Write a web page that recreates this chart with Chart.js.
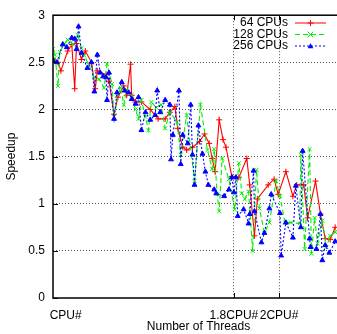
<!DOCTYPE html>
<html lang="en">
<head>
  <meta charset="UTF-8">
  <title>Speedup</title>
  <script src="https://cdn.jsdelivr.net/npm/chart.js"></script>
  <style>
    html, body { margin: 0; padding: 0; background: #fff; overflow: hidden; }
    #wrap { width: 337px; height: 334px; overflow: hidden; }
    canvas { display: block; }
  </style>
</head>
<body>
  <div id="wrap">
    <canvas id="speedupChart" width="349" height="334"></canvas>
  </div>

  <script>
    // number of threads, as a multiple of the CPU count
    const threads64 = [1.000,1.022,1.035,1.065,1.083,1.096,1.104,1.126,1.143,1.170,1.187,1.196,1.235,1.248,1.270,1.287,1.313,1.326,1.343,1.348,1.365,1.391,1.430,1.465,1.496,1.517,1.539,1.552,1.574,1.591,1.617,1.648,1.670,1.691,1.704,1.717,1.735,1.752,1.765,1.791,1.822,1.857,1.870,1.891,1.904,1.952,1.978,1.996,2.030,2.061,2.078,2.109,2.126,2.161,2.183,2.204,2.226,2.248];
    const speedup64 = [2.54,2.50,2.41,2.62,2.69,2.22,2.70,2.53,2.62,2.50,2.22,2.41,2.37,2.30,1.95,2.13,2.25,2.15,2.48,2.15,2.08,2.08,2.00,1.90,1.90,1.97,2.03,1.80,1.60,1.57,1.60,1.66,1.74,1.64,1.48,1.34,1.89,1.68,1.60,1.29,1.28,1.48,1.20,0.66,1.05,1.20,1.26,1.10,1.34,1.08,1.20,1.20,0.85,1.24,0.89,0.63,0.62,0.75];

    const threads128 = [1.000,1.009,1.022,1.030,1.052,1.065,1.087,1.109,1.126,1.139,1.157,1.183,1.204,1.226,1.239,1.261,1.270,1.287,1.300,1.313,1.326,1.348,1.365,1.378,1.391,1.409,1.422,1.435,1.457,1.478,1.496,1.517,1.548,1.565,1.591,1.626,1.652,1.683,1.704,1.713,1.726,1.735,1.748,1.778,1.804,1.822,1.835,1.848,1.865,1.883,1.900,1.913,1.935,1.957,1.987,2.004,2.026,2.052,2.091,2.096,2.113,2.135,2.143,2.157,2.170,2.191,2.209,2.226,2.248];
    const speedup128 = [2.64,2.58,2.25,2.61,2.70,2.74,2.69,2.79,2.65,2.57,2.48,2.34,2.32,2.23,2.48,2.27,1.92,2.16,2.23,2.05,2.21,2.15,2.00,1.90,2.10,1.92,1.78,2.08,2.02,2.05,1.80,1.97,1.87,1.52,1.94,1.24,2.05,1.57,1.37,1.58,1.10,0.92,1.48,1.26,0.94,1.43,1.11,1.05,1.13,0.50,1.36,0.95,0.69,0.80,1.24,1.08,0.80,0.80,0.79,1.52,0.52,1.58,0.47,0.85,0.58,0.82,0.54,0.66,0.70];

    const threads256 = [1.000,1.017,1.043,1.061,1.083,1.096,1.104,1.113,1.126,1.152,1.170,1.183,1.196,1.209,1.222,1.235,1.239,1.248,1.270,1.283,1.304,1.317,1.335,1.348,1.365,1.378,1.391,1.409,1.430,1.452,1.461,1.474,1.496,1.517,1.522,1.530,1.557,1.565,1.574,1.596,1.609,1.617,1.626,1.643,1.661,1.674,1.687,1.713,1.722,1.757,1.778,1.791,1.800,1.809,1.817,1.843,1.865,1.870,1.887,1.891,1.922,1.935,1.957,1.965,2.004,2.009,2.030,2.061,2.074,2.096,2.104,2.135,2.139,2.165,2.183,2.191,2.204,2.222,2.248];
    const speedup256 = [2.52,2.50,2.69,2.66,2.76,2.75,2.64,2.88,2.60,2.44,2.50,2.19,2.58,2.39,2.35,2.34,2.10,2.39,1.90,2.18,2.29,2.20,2.18,2.11,2.06,2.13,1.78,1.97,1.89,1.94,2.20,1.97,2.10,2.05,1.47,1.73,2.20,1.42,1.73,1.64,2.05,1.52,1.20,1.83,1.53,1.34,1.20,1.15,1.11,1.08,1.15,1.28,1.12,1.28,0.87,0.94,0.79,0.89,1.35,0.92,0.59,0.69,0.95,1.10,0.90,0.45,0.80,0.64,1.19,0.75,1.56,0.63,0.54,0.52,0.89,0.40,0.56,0.48,0.60];

    const seriesLabels = ['64 CPUs', '128 CPUs', '256 CPUs'];

    // tick labels on the x axis
    const xTickValues = [1.056, 1.8, 2];
    const xTickLabels = ['CPU#', '1.8CPU#', '2CPU#'];
    const yTickValues = [0, 0.5, 1, 1.5, 2, 2.5, 3];

    const FONT = { family: '"Liberation Sans", Arial, sans-serif', size: 12 };

    const toPoints = (xs, ys) => xs.map((x, i) => ({ x: x, y: ys[i] }));

    const styles = [
      { color: '#ff0000', dash: [], point: 'cross', radius: 3 },
      { color: '#00ee00', dash: [5, 3], point: 'crossRot', radius: 2.8 },
      { color: '#0000ff', dash: [2, 2], point: 'triangle', radius: 2.8 },
    ];

    function marker(ctx, type, x, y, r, color) {
      ctx.save();
      ctx.setLineDash([]);
      ctx.strokeStyle = color;
      ctx.fillStyle = color;
      ctx.lineWidth = 1;
      ctx.beginPath();
      if (type === 'cross') {
        ctx.moveTo(x - r, y); ctx.lineTo(x + r, y);
        ctx.moveTo(x, y - r); ctx.lineTo(x, y + r);
        ctx.stroke();
      } else if (type === 'crossRot') {
        ctx.moveTo(x - r, y - r); ctx.lineTo(x + r, y + r);
        ctx.moveTo(x - r, y + r); ctx.lineTo(x + r, y - r);
        ctx.stroke();
      } else {
        ctx.moveTo(x, y - r);
        ctx.lineTo(x + r, y + r * 0.8);
        ctx.lineTo(x - r, y + r * 0.8);
        ctx.closePath();
        ctx.fill();
      }
      ctx.restore();
    }

    // border, inward ticks and the key, gnuplot style
    const framePlugin = {
      id: 'frame',
      afterDraw(chart) {
        const { ctx, chartArea: a, scales } = chart;
        ctx.save();
        ctx.strokeStyle = '#000';
        ctx.setLineDash([]);
        ctx.lineWidth = 1.5;
        ctx.strokeRect(a.left, a.top, a.right - a.left, a.bottom - a.top);

        ctx.lineWidth = 1;
        ctx.beginPath();
        yTickValues.forEach(v => {
          const y = Math.round(scales.y.getPixelForValue(v)) + 0.5;
          ctx.moveTo(a.left, y); ctx.lineTo(a.left + 5, y);
        });
        [1.8, 2].forEach(v => {
          const x = Math.round(scales.x.getPixelForValue(v)) + 0.5;
          ctx.moveTo(x, a.bottom); ctx.lineTo(x, a.bottom - 5);
          ctx.moveTo(x, a.top); ctx.lineTo(x, a.top + 5);
        });
        ctx.stroke();

        // key
        ctx.font = '12px ' + FONT.family;
        ctx.textAlign = 'right';
        ctx.textBaseline = 'middle';
        seriesLabels.forEach((label, i) => {
          const y = 23 + i * 11.5;
          const s = styles[i];
          ctx.fillStyle = '#000';
          ctx.fillText(label, 288, y);
          ctx.strokeStyle = s.color;
          ctx.setLineDash(s.dash);
          ctx.beginPath();
          ctx.moveTo(295, y); ctx.lineTo(326, y);
          ctx.stroke();
          marker(ctx, s.point, 310.5, y, s.radius, s.color);
        });
        ctx.restore();
      }
    };

    const datasets = [
      [threads64, speedup64],
      [threads128, speedup128],
      [threads256, speedup256],
    ].map(([xs, ys], i) => ({
      label: seriesLabels[i],
      data: toPoints(xs, ys),
      borderColor: styles[i].color,
      backgroundColor: styles[i].color,
      borderWidth: 1.1,
      borderDash: styles[i].dash,
      pointStyle: styles[i].point,
      pointRadius: styles[i].radius,
      pointBorderWidth: 1,
      tension: 0,
      order: 3 - i,
    }));

    new Chart(document.getElementById('speedupChart'), {
      type: 'line',
      data: { datasets: datasets },
      options: {
        responsive: false,
        animation: false,
        layout: { padding: { top: 12, left: 0, right: 0, bottom: 0 } },
        plugins: { legend: { display: false }, tooltip: { enabled: false } },
        scales: {
          x: {
            type: 'linear',
            min: 1,
            max: 2.287,
            afterFit: s => { s.height = 36; },
            afterBuildTicks: s => { s.ticks = xTickValues.map(v => ({ value: v })); },
            ticks: {
              autoSkip: false, maxRotation: 0, padding: 10, color: '#000', font: FONT,
              callback: (v, i) => xTickLabels[i],
            },
            grid: {
              drawTicks: false,
              lineWidth: 1,
              color: c => (c.tick && c.tick.value > 1.5) ? '#555' : 'rgba(0,0,0,0)',
            },
            border: { display: false, dash: [1, 2] },
            title: { display: true, text: 'Number of Threads', color: '#000', font: FONT, padding: 0 },
          },
          y: {
            min: 0,
            max: 3,
            afterFit: s => { s.width = 53; },
            afterBuildTicks: s => { s.ticks = yTickValues.map(v => ({ value: v })); },
            ticks: { padding: 8, color: '#000', font: FONT, callback: v => String(v) },
            grid: {
              drawTicks: false,
              lineWidth: 1,
              color: c => (c.tick && c.tick.value > 0 && c.tick.value < 3) ? '#555' : 'rgba(0,0,0,0)',
            },
            border: { display: false, dash: [1, 2] },
            title: { display: true, text: 'Speedup', color: '#000', font: FONT, padding: { top: 4, bottom: 0 } },
          },
        },
      },
      plugins: [framePlugin],
    });
  </script>
</body>
</html>
